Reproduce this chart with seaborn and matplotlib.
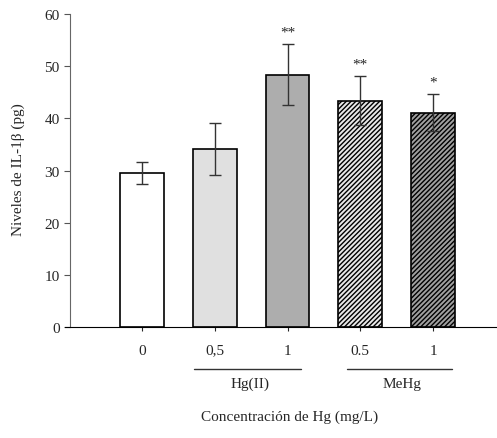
import matplotlib
matplotlib.use("Agg")
import matplotlib.pyplot as plt
import seaborn as sns
import pandas as pd

groups = ["ctrl", "hg05", "hg1", "mehg05", "mehg1"]
tick_labels = ["0", "0,5", "1", "0.5", "1"]
means = [29.6, 34.2, 48.4, 43.4, 41.1]
errors = [2.1, 5.0, 5.9, 4.75, 3.6]
stars = ["", "", "**", "**", "*"]
fills = ["#ffffff", "#e0e0e0", "#adadad", "#e8e8e8", "#a0a0a0"]
hatches = ["", "", "", "///////", "///////"]

sns.set_style("white")
plt.rcParams["font.family"] = ["Liberation Serif", "DejaVu Serif"]
plt.rcParams["hatch.linewidth"] = 1.0

df = pd.DataFrame({"grupo": groups, "valor": means})

fig = plt.figure(figsize=(4.97, 4.39), dpi=100)
ax = fig.add_axes([70 / 497, 1 - 328 / 439, 427 / 497, 313 / 439])
sns.barplot(data=df, x="grupo", y="valor", order=groups, width=0.6,
            edgecolor="black", linewidth=1.2, ax=ax)
for patch, c, h in zip(ax.patches, fills, hatches):
    patch.set_facecolor(c)
    patch.set_hatch(h)

xs = range(len(groups))
ax.errorbar(xs, means, yerr=errors, fmt="none", ecolor="#333333",
            elinewidth=1.0, capsize=4, capthick=1.0)
for x, m, e, s in zip(xs, means, errors, stars):
    if s:
        ax.text(x, m + e + 1.0, s, ha="center", va="bottom", fontsize=11)

ax.set_ylim(0, 60)
ax.set_xlim(-0.99, 4.88)
ax.set_yticks(range(0, 61, 10))
ax.set_xticks(list(xs))
ax.set_xticklabels(tick_labels)
ax.tick_params(axis="both", labelsize=11)
ax.tick_params(axis="y", direction="out", length=4, color="#555555", left=True)
ax.tick_params(axis="x", direction="out", length=3, bottom=True, pad=9)

sns.despine(ax=ax)
ax.spines["left"].set_color("#666666")
ax.spines["bottom"].set_color("black")
ax.spines["bottom"].set_bounds(-1.06, 4.88)

ax.set_ylabel("Niveles de IL-1β (pg)", fontsize=11)
ax.yaxis.set_label_coords(-0.105, 0.505)
ax.set_xlabel("Concentración de Hg (mg/L)", fontsize=11)
ax.xaxis.set_label_coords(0.515, -0.265)

trans = ax.get_xaxis_transform()
for x0, x1, name, xc in [(0.71, 2.18, "Hg(II)", 1.48), (2.82, 4.26, "MeHg", 3.58)]:
    ax.plot([x0, x1], [-0.134, -0.134], transform=trans, color="#333333",
            lw=1.0, clip_on=False)
    ax.text(xc, -0.18, name, transform=trans, ha="center", va="center",
            fontsize=11)

fig.savefig("out.png", dpi=100)
